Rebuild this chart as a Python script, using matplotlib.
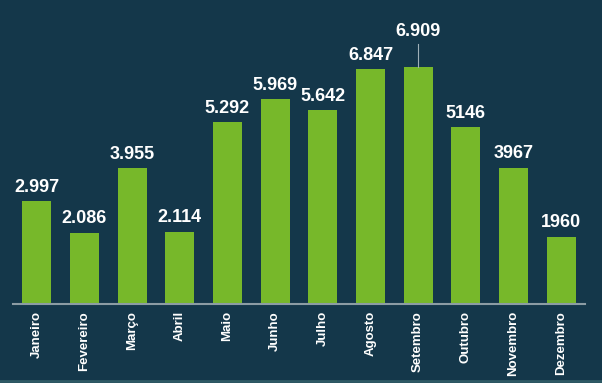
import matplotlib.pyplot as plt
from matplotlib.lines import Line2D

meses = ['Janeiro', 'Fevereiro', 'Março', 'Abril', 'Maio', 'Junho', 'Julho',
         'Agosto', 'Setembro', 'Outubro', 'Novembro', 'Dezembro']
valores = [2.997, 2.086, 3.955, 2.114, 5.292, 5.969, 5.642,
           6.847, 6.909, 5.146, 3.967, 1.960]
rotulos = ['2.997', '2.086', '3.955', '2.114', '5.292', '5.969', '5.642',
           '6.847', '6.909', '5146', '3967', '1960']

bg = '#14374a'
verde = '#77b82a'

plt.rcParams['font.family'] = ['Liberation Sans', 'DejaVu Sans']

fig = plt.figure(figsize=(6.02, 3.83), dpi=100, facecolor=bg)
ax = fig.add_axes([0.0216, 0.206, 0.95, 0.794])
ax.set_facecolor(bg)

x = range(len(meses))
ax.bar(x, valores, width=0.61, color=verde)

for i, (v, t) in enumerate(zip(valores, rotulos)):
    if meses[i] == 'Setembro':
        # rótulo elevado com linha guia
        ax.annotate(t, xy=(i, v), xytext=(0, 19.5), textcoords='offset points',
                    ha='center', va='bottom', color='white', fontsize=13,
                    fontweight='bold')
        ax.plot([i, i], [v, v + 0.66], color='#9fb0b8', lw=0.8)
    else:
        ax.annotate(t, xy=(i, v), xytext=(0, 4), textcoords='offset points',
                    ha='center', va='bottom', color='white', fontsize=13,
                    fontweight='bold')

ax.set_xlim(-0.5, len(meses) - 0.5)
ax.set_ylim(0, 8.86)
ax.set_xticks(list(x))
ax.set_xticklabels(meses, rotation=90, color='white', fontsize=9.5,
                   fontweight='bold')
ax.tick_params(axis='x', length=0, pad=5)
ax.set_yticks([])
for s in ['top', 'right', 'left']:
    ax.spines[s].set_visible(False)
ax.spines['bottom'].set_color('#8c9ca4')
ax.spines['bottom'].set_linewidth(1.5)

fig.add_artist(Line2D([0, 1], [0.004, 0.004], transform=fig.transFigure,
                      color='#2f5a66', lw=2))

fig.savefig('out.png', dpi=100, facecolor=bg)
